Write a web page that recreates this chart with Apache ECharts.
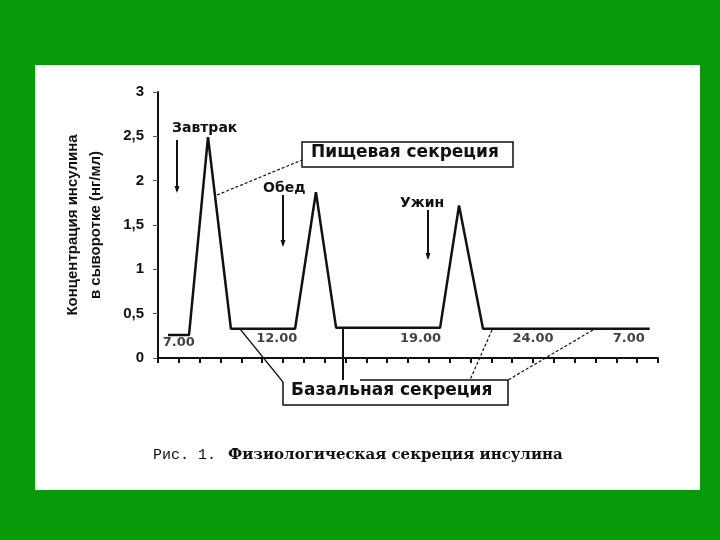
<!DOCTYPE html>
<html>
<head>
<meta charset="utf-8">
<script src="https://cdn.jsdelivr.net/npm/echarts@6/dist/echarts.min.js"></script>
<style>
  html, body { margin: 0; padding: 0; background: #089a08; }
  #chart { width: 720px; height: 540px; }
</style>
</head>
<body>
<div id="chart"></div>
<script>
// время суток, ч (6 = начало оси, 30 = 6.00 след. дня)
var hours   = [6.48, 7.49, 8.4, 9.5, 12.58, 13.58, 14.55, 19.54, 20.45, 21.6, 29.6];
// концентрация инсулина, нг/мл
var insulin = [0.26, 0.26, 2.49, 0.33, 0.33, 1.87, 0.34, 0.34, 1.72, 0.33, 0.33];

var timeLabels = ['7.00', '12.00', '19.00', '24.00', '7.00'];
var timeLabelHours = [7, 11.7, 18.6, 24, 28.6];
var timeLabelLevel = [0.17, 0.22, 0.22, 0.22, 0.22];

var yTicks = ['0', '0,5', '1', '1,5', '2', '2,5', '3'];

var chartDom = document.getElementById('chart');
var chart = echarts.init(chartDom);

var lineData = hours.map(function (h, i) { return [h, insulin[i]]; });
var labelData = timeLabels.map(function (t, i) {
  return { name: t, value: [timeLabelHours[i], timeLabelLevel[i]] };
});

var mealFont = 'bold 14px "DejaVu Sans", sans-serif';
var boxFont = 'bold 17px "DejaVu Sans", sans-serif';

function arrow(x, y1, y2) {
  return [
    { type: 'line', shape: { x1: x, y1: y1, x2: x, y2: y2 - 2 }, style: { stroke: '#111', lineWidth: 2 } },
    { type: 'polygon', shape: { points: [[x - 2.5, y2 - 7], [x + 2.5, y2 - 7], [x, y2]] }, style: { fill: '#111' } }
  ];
}

var graphics = [
  { type: 'rect', z: -10, shape: { x: 35, y: 65, width: 665, height: 425 }, style: { fill: '#fff' } },
  // подписи приёмов пищи
  { type: 'text', left: 172, top: 121, style: { text: 'Завтрак', font: mealFont, fill: '#111' } },
  { type: 'text', left: 263, top: 181, style: { text: 'Обед', font: mealFont, fill: '#111' } },
  { type: 'text', left: 400, top: 196, style: { text: 'Ужин', font: mealFont, fill: '#111' } },
  // Пищевая секреция
  { type: 'rect', shape: { x: 302, y: 142, width: 211, height: 25 }, style: { fill: 'none', stroke: '#111', lineWidth: 1.5 } },
  { type: 'text', left: 311, top: 144, style: { text: 'Пищевая секреция', font: boxFont, fill: '#111' } },
  { type: 'line', shape: { x1: 217, y1: 195, x2: 302, y2: 160 }, style: { stroke: '#111', lineWidth: 1.2, lineDash: [3, 2] } },
  // Базальная секреция
  { type: 'polyline', shape: { points: [[360, 380], [508, 380], [508, 405], [283, 405], [283, 382]] }, style: { fill: 'none', stroke: '#111', lineWidth: 1.5 } },
  { type: 'text', left: 291, top: 382, style: { text: 'Базальная секреция', font: boxFont, fill: '#111' } },
  { type: 'line', shape: { x1: 343, y1: 328, x2: 343, y2: 380 }, style: { stroke: '#111', lineWidth: 2 } },
  { type: 'line', shape: { x1: 240, y1: 329, x2: 283, y2: 382 }, style: { stroke: '#111', lineWidth: 1.2 } },
  { type: 'line', shape: { x1: 492, y1: 330, x2: 470, y2: 380 }, style: { stroke: '#111', lineWidth: 1.2, lineDash: [3, 2] } },
  { type: 'line', shape: { x1: 593, y1: 330, x2: 508, y2: 380 }, style: { stroke: '#111', lineWidth: 1.2, lineDash: [3, 2] } },
  // подпись рисунка
  { type: 'text', left: 153, top: 448, style: { text: 'Рис. 1.', font: '15px "Liberation Mono", monospace', fill: '#111' } },
  { type: 'text', left: 228, top: 448, style: { text: 'Физиологическая секреция инсулина', font: 'bold 15px "DejaVu Serif", serif', fill: '#111' } }
].concat(arrow(177, 140, 193), arrow(283, 195, 247), arrow(428, 210, 260));

var option = {
  animation: false,
  backgroundColor: '#089a08',
  grid: { left: 158, right: 62, top: 92, bottom: 182 },
  xAxis: {
    type: 'value',
    min: 6,
    max: 30,
    interval: 1,
    axisLine: { lineStyle: { color: '#111', width: 2 } },
    axisTick: { length: 5, lineStyle: { color: '#111', width: 2 } },
    axisLabel: { show: false },
    splitLine: { show: false }
  },
  yAxis: {
    type: 'value',
    min: 0,
    max: 3,
    interval: 0.5,
    name: 'Концентрация инсулина\nв сыворотке (нг/мл)',
    nameLocation: 'middle',
    nameRotate: 90,
    nameGap: 51,
    nameTextStyle: { fontFamily: 'Liberation Sans', fontWeight: 'bold', fontSize: 15, color: '#111', lineHeight: 23 },
    axisLine: { show: true, lineStyle: { color: '#111', width: 2 } },
    axisTick: { show: true, length: 5, lineStyle: { color: '#555', width: 1 } },
    axisLabel: {
      margin: 14,
      fontFamily: 'Liberation Sans',
      fontWeight: 'bold',
      fontSize: 15,
      color: '#111',
      formatter: function (v) { return yTicks[Math.round(v * 2)]; }
    },
    splitLine: { show: false }
  },
  series: [
    {
      type: 'line',
      data: lineData,
      symbol: 'none',
      lineStyle: { color: '#111', width: 2.5 }
    },
    {
      type: 'scatter',
      data: labelData,
      symbolSize: 0,
      label: {
        show: true,
        position: 'inside',
        formatter: '{b}',
        fontFamily: 'DejaVu Sans',
        fontWeight: 'bold',
        fontSize: 13,
        color: '#111'
      }
    }
  ],
  graphic: graphics
};

option && chart.setOption(option);
</script>
</body>
</html>
